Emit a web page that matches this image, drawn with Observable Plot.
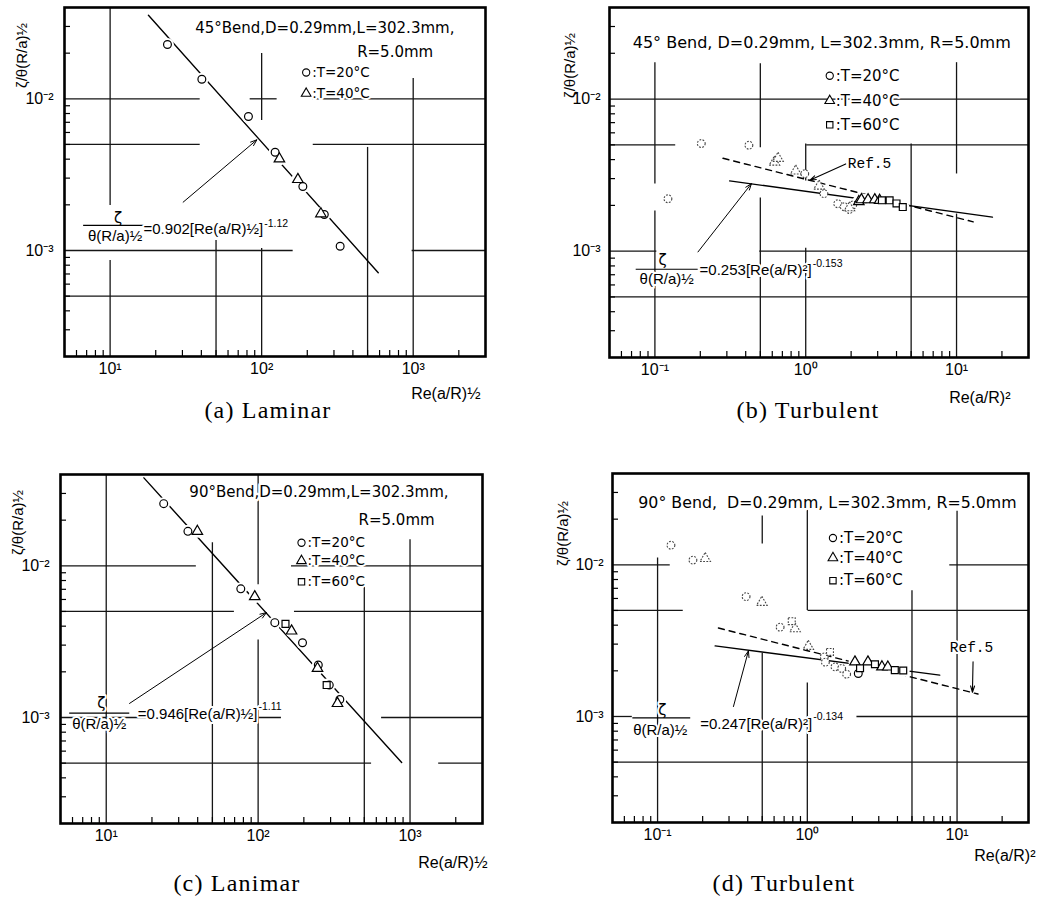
<!DOCTYPE html>
<html><head><meta charset="utf-8">
<script src="https://cdn.jsdelivr.net/npm/d3@7"></script>
<script src="https://cdn.jsdelivr.net/npm/@observablehq/plot@0.6"></script>
<style>
body{margin:0;background:#fff;}
#wrap{position:relative;width:1046px;height:899px;overflow:hidden;background:#fff;}
.panel{position:absolute;}
.cap{position:absolute;font-family:"Liberation Serif","DejaVu Serif",serif;font-size:24px;letter-spacing:1.2px;color:#000;white-space:nowrap;transform:translate(-50%,-50%);}
</style></head><body><div id="wrap"></div>
<script>
// ---------- shared axis values ----------
const Y_DOMAIN = [2e-4, 4e-2];
const Y_MAJOR = [1e-3, 1e-2];
const Y_MINOR = [3e-4,4e-4,5e-4,6e-4,7e-4,8e-4,9e-4,2e-3,3e-3,4e-3,5e-3,6e-3,7e-3,8e-3,9e-3,2e-2,3e-2];
const Y_LABEL = "ζ/θ(R/a)½";
const LAM_DOMAIN = [5, 3000];
const LAM_MAJOR = [10, 100, 1000];
const LAM_MINOR = [6,7,8,9,20,30,40,50,60,70,80,90,200,300,400,500,600,700,800,900,2000];
const TUR_DOMAIN = [0.05, 30];
const TUR_MAJOR = [0.1, 1, 10];
const TUR_MINOR = [0.06,0.07,0.08,0.09,0.2,0.3,0.4,0.5,0.6,0.7,0.8,0.9,2,3,4,5,6,7,8,9,20];
const LEGEND_TEXT = [":T=20°C", ":T=40°C", ":T=60°C"];

// ---------- (a) 45° bend, laminar ----------
const aC20x = [23.9, 40.3, 81.8, 122.7, 187, 259, 329.6];
const aC20y = [0.0228, 0.01345, 0.00764, 0.00444, 0.00264, 0.001726, 0.001066];
const aT40x = [131, 173.4, 246];
const aT40y = [0.00402, 0.00294, 0.001746];
const aFitX = [17.9, 588];
const aFitY = [0.0356, 0.000713];

// ---------- (b) 45° bend, turbulent ----------
const bC20x = [0.122, 0.203, 0.42, 0.985, 1.32, 1.63, 1.8, 1.95, 2.05];
const bC20y = [0.00221, 0.0051, 0.00497, 0.00323, 0.00239, 0.00205, 0.00196, 0.00188, 0.00201];
const bT40x = [0.62, 0.655, 0.858, 1.226, 1.95, 2.25, 2.34, 2.59, 2.87, 3.09];
const bT40y = [0.00385, 0.00408, 0.00337, 0.00268, 0.00193, 0.00212, 0.00218, 0.00218, 0.00218, 0.00216];
const bS60x = [3.2, 3.6, 4.0, 4.4];
const bS60y = [0.00216, 0.00216, 0.00206, 0.00195];
const bFitX = [0.313, 17.3];
const bFitY = [0.0029, 0.001675];
const bRefX = [0.283, 12.9];
const bRefY = [0.00408, 0.00156];

// ---------- (c) 90° bend, laminar ----------
const cC20x = [23.9, 34.5, 76.9, 128.8, 196, 249, 294, 345];
const cC20y = [0.0257, 0.01687, 0.00705, 0.00422, 0.00311, 0.00222, 0.001636, 0.001315];
const cT40x = [39.8, 95, 166, 246, 333];
const cT40y = [0.01687, 0.00626, 0.00372, 0.00211, 0.001237];
const cS60x = [151.4, 282.6];
const cS60y = [0.00414, 0.001636];
const cFitX = [17.7, 881];
const cFitY = [0.038, 0.000505];

// ---------- (d) 90° bend, turbulent ----------
const dC20x = [0.1228, 0.1722, 0.390, 0.658, 1.298, 1.32, 1.53, 1.695, 1.83, 2.19];
const dC20y = [0.01346, 0.01074, 0.00617, 0.00388, 0.00247, 0.00228, 0.002125, 0.002075, 0.0019, 0.00192];
const dT40x = [0.208, 0.497, 0.828, 1.015, 2.08, 2.54, 3.15, 3.45];
const dT40y = [0.011, 0.00566, 0.00379, 0.0029, 0.00229, 0.00229, 0.002125, 0.00212];
const dS60x = [0.787, 1.417, 2.25, 2.83, 3.84, 4.37];
const dS60y = [0.00425, 0.002665, 0.00208, 0.00221, 0.00202, 0.00201];
const dFitX = [0.2424, 7.66];
const dFitY = [0.00292, 0.001875];
const dRefX = [0.255, 13.8];
const dRefY = [0.00383, 0.001406];

// ---------- broken grid lines: vertical [x, y1, y2], horizontal [y, x1, x2] ----------
const aGridV = [[10, 0.04, 0.00198], [10, 0.000859, 2e-4], [50, 0.001164, 2e-4], [100, 0.0199, 0.00719], [100, 0.00103, 2e-4], [500, 0.00478, 2e-4], [1000, 0.0136, 2e-4]];
const aGridH = [[1e-2, 5, 39.3], [1e-2, 84, 126.5], [1e-2, 219, 3000], [5e-3, 5, 39.3], [5e-3, 219, 3000], [1e-3, 5, 161.4], [1e-3, 984, 3000], [5e-4, 5, 3000]];
const bGridV = [[0.1, 0.01735, 0.002767], [0.1, 0.001836, 2e-4], [0.5, 0.01709, 0.00478], [0.5, 0.002236, 2e-4], [1, 0.005074, 0.002892], [1, 0.001047, 2e-4], [5, 0.005074, 2e-4], [10, 0.01735, 0.003218], [10, 0.001754, 2e-4]];
const bGridH = [[1e-2, 0.05, 30], [5e-3, 0.05, 0.1374], [5e-3, 1.015, 30], [1e-3, 0.05, 0.103], [1e-3, 0.4955, 30], [5e-4, 0.05, 30]];
const cGridV = [[10, 0.04, 2e-4], [50, 0.01419, 2e-4], [100, 0.04, 0.00749], [100, 0.003243, 2e-4], [500, 0.00726, 2e-4], [1000, 0.01486, 2e-4]];
const cGridH = [[1e-2, 5, 39.2], [1e-2, 165.8, 3000], [5e-3, 5, 69.8], [5e-3, 173.5, 3000], [1e-3, 5, 142.4], [1e-3, 649.8, 3000], [5e-4, 5, 558.3], [5e-4, 1544, 3000]];
const dGridV = [[0.1, 0.01111, 2e-4], [0.5, 0.02095, 0.01372], [0.5, 0.002614, 2e-4], [1, 0.02434, 0.005], [1, 0.001663, 2e-4], [5, 0.006758, 2e-4], [10, 0.02258, 2e-4]];
const dGridH = [[1e-2, 0.05, 0.1215], [1e-2, 8.94, 30], [5e-3, 0.05, 0.1484], [5e-3, 1.011, 30], [1e-3, 0.05, 0.0678], [1e-3, 2.145, 30], [5e-4, 0.05, 30]];

// ---------- annotation anchors (data units) ----------
const aTitle = [{x: 36.4, y: 0.02905, t: "45°Bend,D=0.29mm,L=302.3mm,"}, {x: 426.6, y: 0.0202, t: "R=5.0mm"}];
const aLegend = [{x: 196.7, y: 0.01491, s: "circle", t: LEGEND_TEXT[0]}, {x: 196.7, y: 0.01084, s: "triangle", t: LEGEND_TEXT[1]}];
const aEq = {num: [11.29, 0.001625], bar: [6.635, 17.54, 0.001462], den: [10.79, 0.001237], main: [18.09, 0.001375, "=0.902[Re(a/R)½]"], sup: [103.9, 0.001507, "-1.12"], arrow: [30.33, 0.002082, 92.96, 0.005366]};

const bTitle = [{x: 0.0713, y: 0.0235, t: "45° Bend, D=0.29mm, L=302.3mm, R=5.0mm"}];
const bLegend = [{x: 1.443, y: 0.01424, s: "circle", t: LEGEND_TEXT[0]}, {x: 1.443, y: 0.00975, s: "triangle", t: LEGEND_TEXT[1]}, {x: 1.443, y: 0.006771, s: "square", t: LEGEND_TEXT[2]}];
const bEq = {num: [0.1126, 0.000872], bar: [0.07459, 0.1922, 0.000761], den: [0.1197, 0.000654], main: [0.1982, 0.000749, "=0.253[Re(a/R)²]"], sup: [1.113, 0.000834, "-0.153"], arrow: [0.1931, 0.000989, 0.4365, 0.002778]};
const bRef = {text: [1.899, 0.003802], arrow: [1.842, 0.003746, 1.063, 0.002924]};

const cTitle = [{x: 35.25, y: 0.03038, t: "90°Bend,D=0.29mm,L=302.3mm,"}, {x: 458.4, y: 0.02014, t: "R=5.0mm"}];
const cLegend = [{x: 193, y: 0.01419, s: "circle", t: LEGEND_TEXT[0]}, {x: 193, y: 0.01079, s: "triangle", t: LEGEND_TEXT[1]}, {x: 193, y: 0.00784, s: "square", t: LEGEND_TEXT[2]}];
const cEq = {num: [9.27, 0.001243], bar: [5.704, 14.18, 0.001067], den: [8.994, 0.000903], main: [14.61, 0.001051, "=0.946[Re(a/R)½]"], sup: [100.5, 0.001175, "-1.11"], arrow: [14.24, 0.001238, 113.4, 0.004912]};

const dTitle = [{x: 0.07435, y: 0.02547, t: "90° Bend,  D=0.29mm, L=302.3mm, R=5.0mm"}];
const dLegend = [{x: 1.483, y: 0.01503, s: "circle", t: LEGEND_TEXT[0]}, {x: 1.483, y: 0.01111, s: "triangle", t: LEGEND_TEXT[1]}, {x: 1.483, y: 0.00786, s: "square", t: LEGEND_TEXT[2]}];
const dEq = {num: [0.1075, 0.001106], bar: [0.06783, 0.1652, 0.00098], den: [0.1042, 0.000818], main: [0.1678, 0.000896, "=0.247[Re(a/R)²]"], sup: [1.096, 0.000995, "-0.134"], arrow: [0.3211, 0.001163, 0.4043, 0.002705]};
const dRef = {text: [8.94, 0.002861], arrow: [12.79, 0.002292, 12.67, 0.001445]};

// ---------- helpers ----------
const FONT = "'DejaVu Sans', 'Liberation Sans', sans-serif";
const NARROW = "'Liberation Sans Narrow', 'Liberation Sans', sans-serif";
const SUP = {"-": "⁻", "0": "⁰", "1": "¹", "2": "²", "3": "³"};
const fmtPow = d => "10" + String(Math.round(Math.log10(d))).replace(/[-0-9]/g, c => SUP[c]);
const pts = (xs, ys) => xs.map((x, i) => ({x, y: ys[i]}));
const HALO = {stroke: "white", strokeWidth: 4};

function seriesMarks(series, solidFrom) {
  const out = [];
  for (const [data] of series) {
    out.push(Plot.dot(data, {x: "x", y: "y", r: 6.5, fill: "white", stroke: "none", filter: d => d.x >= solidFrom}));
  }
  for (const [data, symbol] of series) {
    out.push(Plot.dot(data, {x: "x", y: "y", symbol, r: 3.9, fill: "white", stroke: "#444", strokeWidth: 1.1, strokeDasharray: "1.8,1.4", filter: d => d.x < solidFrom}));
    out.push(Plot.dot(data, {x: "x", y: "y", symbol, r: 3.9, fill: "white", stroke: "black", strokeWidth: 1.2, filter: d => d.x >= solidFrom}));
  }
  return out;
}

function eqMarks(eq) {
  return [
    Plot.arrow([eq.arrow], {x1: d => d[0], y1: d => d[1], x2: d => d[2], y2: d => d[3], stroke: "black", strokeWidth: 1, headLength: 10, headAngle: 40}),
    Plot.text([eq.num], {x: d => d[0], y: d => d[1], text: () => "ζ", fontSize: 15, fill: "black", ...HALO}),
    Plot.text([eq.den], {x: d => d[0], y: d => d[1], text: () => "θ(R/a)½", fontSize: 15, fontFamily: NARROW, fill: "black", ...HALO}),
    Plot.link([eq.bar], {x1: d => d[0], x2: d => d[1], y1: d => d[2], y2: d => d[2], stroke: "black", strokeWidth: 1.2}),
    // main part ends where the exponent begins
    Plot.text([eq.main], {x: () => eq.sup[0], y: d => d[1], text: d => d[2], textAnchor: "end", dx: -1, fontSize: 15, fontFamily: NARROW, fill: "black", ...HALO}),
    Plot.text([eq.sup], {x: d => d[0], y: d => d[1], text: d => d[2], textAnchor: "start", fontSize: 10.5, fontFamily: NARROW, fill: "black", ...HALO})
  ];
}

function refMarks(ref) {
  if (!ref) return [];
  return [
    Plot.arrow([ref.arrow], {x1: d => d[0], y1: d => d[1], x2: d => d[2], y2: d => d[3], stroke: "black", strokeWidth: 1.1, headLength: 9, headAngle: 35}),
    Plot.text([ref.text], {x: d => d[0], y: d => d[1], text: () => "Ref.5", textAnchor: "start", fontSize: 14.5, fill: "black", ...HALO, fontFamily: "'Liberation Mono', 'DejaVu Sans Mono', monospace"})
  ];
}

function makePanel(p) {
  const marks = [
    Plot.ruleX(p.gridV, {x: d => d[0], y1: d => d[1], y2: d => d[2], stroke: "#151515", strokeWidth: 1.3}),
    Plot.ruleY(p.gridH, {y: d => d[0], x1: d => d[1], x2: d => d[2], stroke: "#151515", strokeWidth: 1.3}),
    Plot.axisX(p.xMinor, {tickSize: -6, fill: "none", strokeWidth: 1.2}),
    Plot.axisY(Y_MINOR, {tickSize: -6, fill: "none", strokeWidth: 1.2}),
    Plot.axisX(p.xMajor, {tickSize: 0, tickPadding: 6, tickFormat: fmtPow, fontSize: 16, fontFamily: NARROW, label: null}),
    Plot.axisY(Y_MAJOR, {tickSize: 0, tickPadding: p.yPad, tickFormat: fmtPow, fontSize: 16, fontFamily: NARROW, label: null}),
    Plot.frame({stroke: "black", strokeWidth: 2.6}),
    Plot.text([p.xLabel], {frameAnchor: "bottom-right", textAnchor: "end", lineAnchor: "middle", dx: p.xLabelPos[0], dy: p.xLabelPos[1], fontSize: 16, fontFamily: NARROW, fill: "black"}),
    Plot.text([Y_LABEL], {frameAnchor: "top-left", textAnchor: "middle", lineAnchor: "middle", rotate: -90, dx: p.yLabelPos[0], dy: p.yLabelPos[1], fontSize: 15, fontFamily: NARROW, fill: "black"}),
    Plot.text(p.title, {x: "x", y: "y", text: "t", textAnchor: "start", fontSize: p.titleSize, fill: "black", stroke: "white", strokeWidth: 5}),
    Plot.dot(p.legend, {x: "x", y: "y", symbol: "s", r: 3.6, fill: "white", stroke: "black", strokeWidth: 1.1}),
    Plot.text(p.legend, {x: "x", y: "y", text: "t", textAnchor: "start", dx: 6, fontSize: p.legendSize, fill: "black", ...HALO}),
    ...p.lines.map(([data, dashed]) => Plot.line(data, {x: "x", y: "y", stroke: "black", strokeWidth: 1.4, strokeDasharray: dashed ? "6,5" : null})),
    ...seriesMarks(p.series, p.solidFrom),
    ...eqMarks(p.eq),
    ...refMarks(p.ref)
  ];
  return Plot.plot({
    width: p.w, height: p.h,
    marginLeft: p.m[0], marginRight: p.m[1], marginTop: p.m[2], marginBottom: p.m[3],
    style: {fontFamily: FONT, fontSize: "14px", color: "black", background: "white", overflow: "visible"},
    x: {type: "log", domain: p.xDomain},
    y: {type: "log", domain: Y_DOMAIN},
    symbol: {type: "identity"},
    marks
  });
}

const panels = [
  {pos: [0, 0], w: 520, h: 400, m: [64, 35, 7, 44], xDomain: LAM_DOMAIN, xMajor: LAM_MAJOR, gridV: aGridV, gridH: aGridH, xMinor: LAM_MINOR,
   yPad: 11, xLabel: "Re(a/R)½", xLabelPos: [-5, 37], yLabelPos: [-42, 48], title: aTitle, titleSize: 15, legend: aLegend, legendSize: 13.5,
   lines: [[pts(aFitX, aFitY), false]], series: [[pts(aC20x, aC20y), "circle"], [pts(aT40x, aT40y), "triangle"]], solidFrom: 0, eq: aEq,
   caption: ["(a) Laminar", 268, 410]},
  {pos: [520, 0], w: 526, h: 400, m: [89, 18, 7, 43], xDomain: TUR_DOMAIN, xMajor: TUR_MAJOR, gridV: bGridV, gridH: bGridH, xMinor: TUR_MINOR,
   yPad: 9, xLabel: "Re(a/R)²", xLabelPos: [-18, 40], yLabelPos: [-39, 58], title: bTitle, titleSize: 16, legend: bLegend, legendSize: 15,
   lines: [[pts(bFitX, bFitY), false], [pts(bRefX, bRefY), true]], series: [[pts(bC20x, bC20y), "circle"], [pts(bT40x, bT40y), "triangle"], [pts(bS60x, bS60y), "square"]], solidFrom: 2.2, eq: bEq, ref: bRef,
   caption: ["(b) Turbulent", 808, 410]},
  {pos: [0, 440], w: 520, h: 420, m: [60, 38, 34, 37], xDomain: LAM_DOMAIN, xMajor: LAM_MAJOR, gridV: cGridV, gridH: cGridH, xMinor: LAM_MINOR,
   yPad: 11, xLabel: "Re(a/R)½", xLabelPos: [5, 39], yLabelPos: [-42, 48], title: cTitle, titleSize: 15, legend: cLegend, legendSize: 13.5,
   lines: [[pts(cFitX, cFitY), false]], series: [[pts(cC20x, cC20y), "circle"], [pts(cT40x, cT40y), "triangle"], [pts(cS60x, cS60y), "square"]], solidFrom: 0, eq: cEq,
   caption: ["(c) Lanimar", 237, 883]},
  {pos: [520, 440], w: 526, h: 420, m: [92, 18, 33, 38], xDomain: TUR_DOMAIN, xMajor: TUR_MAJOR, gridV: dGridV, gridH: dGridH, xMinor: TUR_MINOR,
   yPad: 9, xLabel: "Re(a/R)²", xLabelPos: [7, 33], yLabelPos: [-49, 60], title: dTitle, titleSize: 15.8, legend: dLegend, legendSize: 15,
   lines: [[pts(dFitX, dFitY), false], [pts(dRefX, dRefY), true]], series: [[pts(dC20x, dC20y), "circle"], [pts(dT40x, dT40y), "triangle"], [pts(dS60x, dS60y), "square"]], solidFrom: 2.0, eq: dEq, ref: dRef,
   caption: ["(d) Turbulent", 784, 883]}
];

const wrap = document.getElementById("wrap");
for (const p of panels) {
  const div = document.createElement("div");
  div.className = "panel";
  div.style.left = p.pos[0] + "px";
  div.style.top = p.pos[1] + "px";
  div.appendChild(makePanel(p));
  wrap.appendChild(div);
  const cap = document.createElement("div");
  cap.className = "cap";
  cap.textContent = p.caption[0];
  cap.style.left = p.caption[1] + "px";
  cap.style.top = p.caption[2] + "px";
  wrap.appendChild(cap);
}
</script></body></html>
